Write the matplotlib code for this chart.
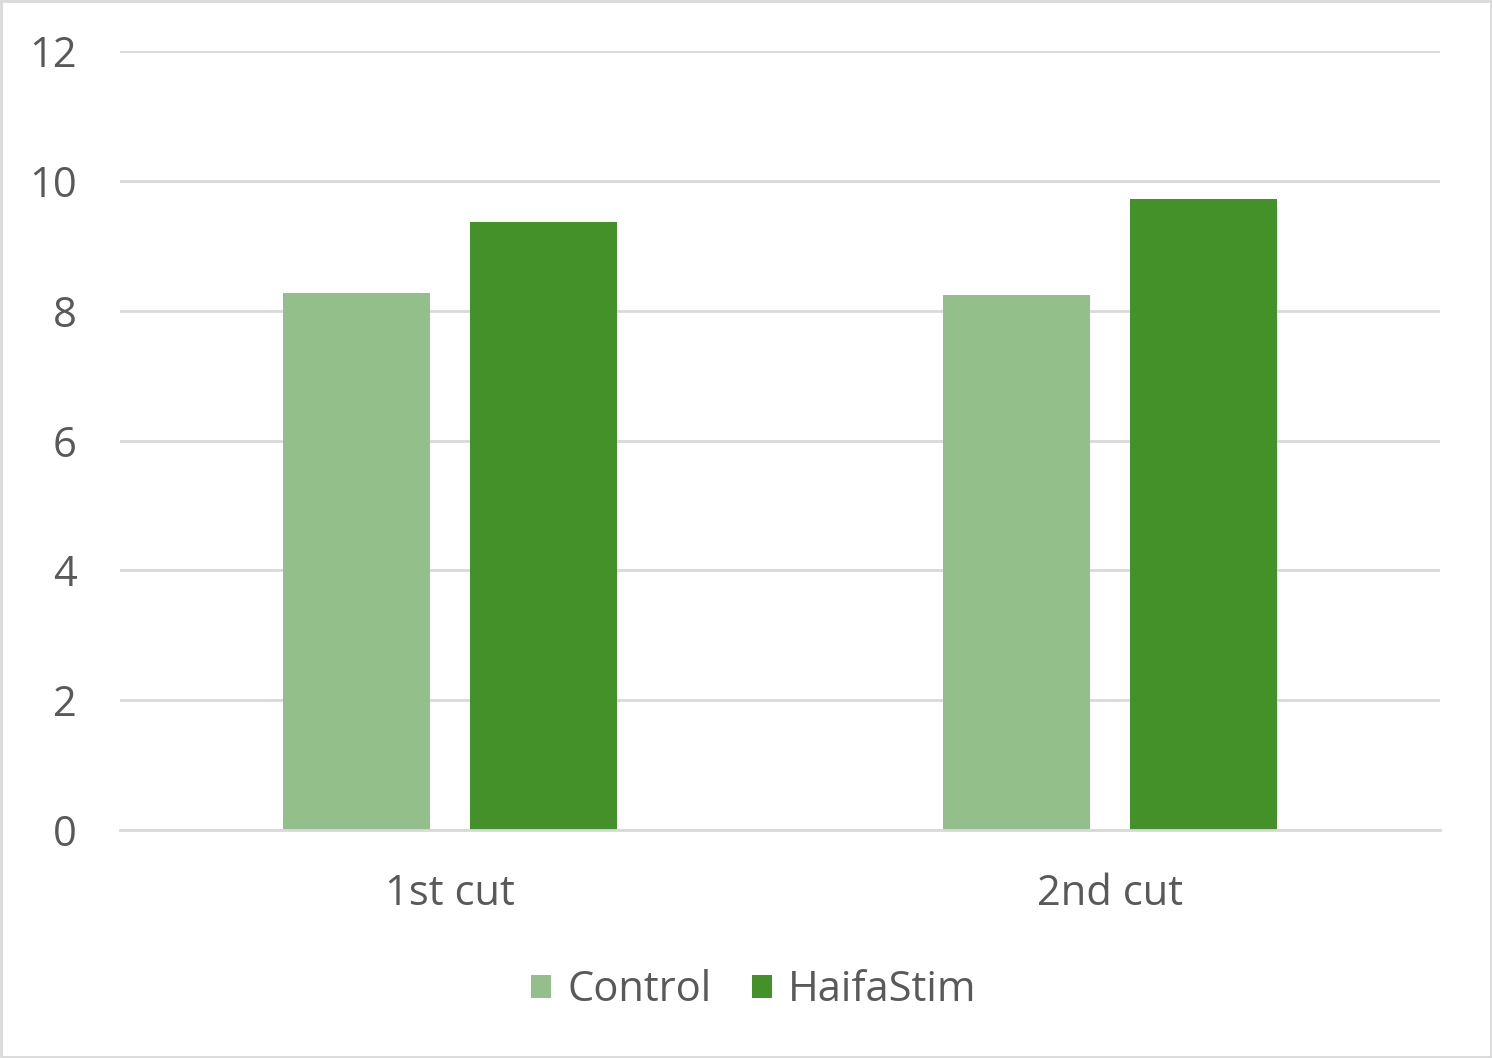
import matplotlib
matplotlib.use("Agg")
import matplotlib.pyplot as plt
import numpy as np
from matplotlib.patches import Rectangle

categories = ["1st cut", "2nd cut"]
control = [8.27, 8.24]
haifastim = [9.37, 9.72]
series_names = ["Control", "HaifaStim"]
yticks = [0, 2, 4, 6, 8, 10, 12]

plt.rcParams['font.family'] = ['Open Sans', 'DejaVu Sans']
txt = '#595959'
grid = '#D9D9D9'

fig = plt.figure(figsize=(14.92, 10.58), dpi=100)
W, H = 1492, 1058
ax = fig.add_axes([120/W, 1-830/H, 1320/W, 779/H])

x = np.arange(len(categories))
bw = 0.223
off = 0.1415
ax.bar(x-off, control, bw, color='#93C08A', label=series_names[0], zorder=3)
ax.bar(x+off, haifastim, bw, color='#44912A', label=series_names[1], zorder=3)

ax.set_xlim(-0.5, 1.5)
ax.set_ylim(0, 12)
ax.set_yticks(yticks)
ax.set_xticks(x)
ax.set_xticklabels(categories)
ax.yaxis.grid(True, color=grid, lw=2, zorder=0)
ax.tick_params(length=0, labelsize=30, labelcolor=txt)
ax.tick_params(axis='y', pad=31)
ax.tick_params(axis='x', pad=31)
for lbl in ax.get_yticklabels():
    lbl.set_va('center_baseline')
for s in ['top', 'right', 'left']:
    ax.spines[s].set_visible(False)
ax.spines['bottom'].set_color(grid)
ax.spines['bottom'].set_linewidth(2)
ax.spines['bottom'].set_zorder(4)

fig.legend(loc='center', bbox_to_anchor=(0.5 + 8/W, 1-990/H), ncol=2, frameon=False,
           fontsize=30, labelcolor=txt, handlelength=0.48, handleheight=0.48,
           handletextpad=0.4, columnspacing=0.95)

fig.patches.append(Rectangle((1/W, 1/H), 1-2/W, 1-2/H, transform=fig.transFigure,
                             fill=False, edgecolor=grid, lw=2))

fig.savefig("out.png", dpi=100, facecolor='white')
